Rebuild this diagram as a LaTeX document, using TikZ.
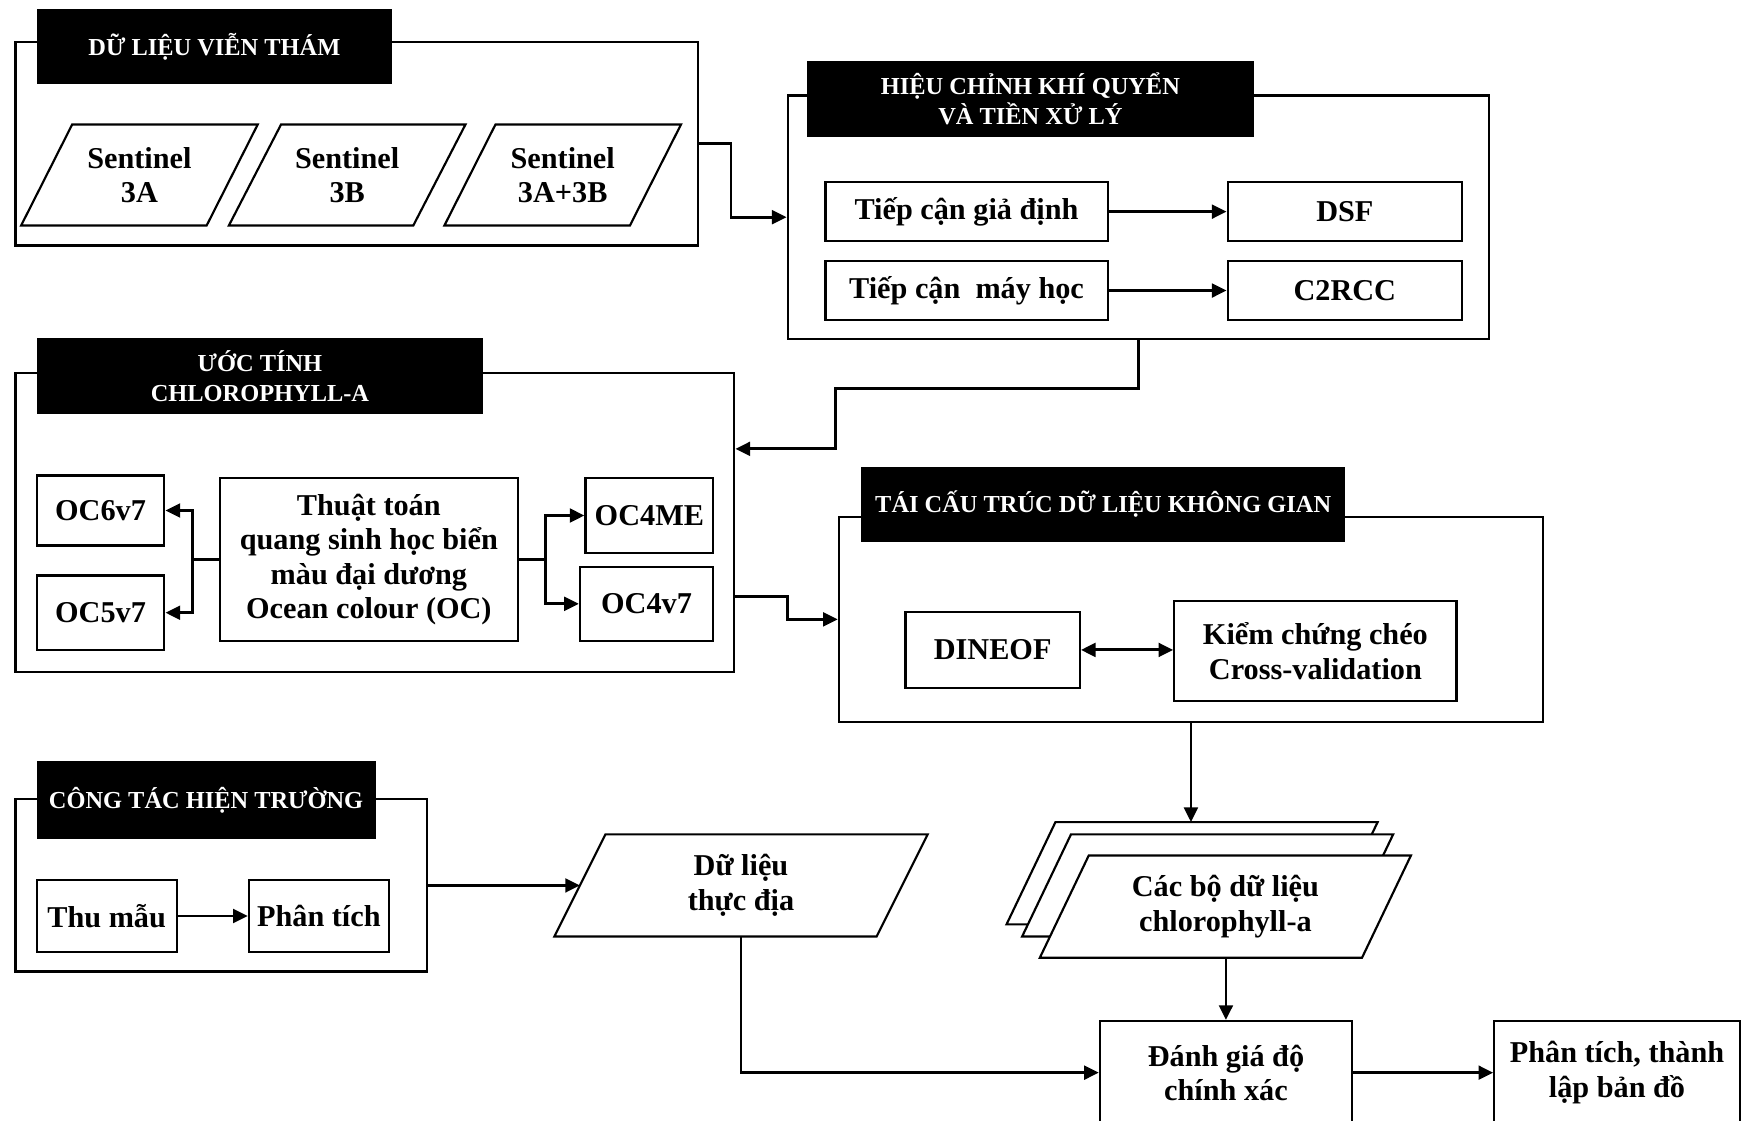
\documentclass[tikz,border=0pt]{standalone}
\usepackage{fontspec}
\setmainfont{Liberation Serif}
\usetikzlibrary{arrows.meta,fit}
\newcommand\paral[7]{%
  \draw[para] (#2,#4) -- (#2+#6,#3) -- (#2+#6+#5,#3) -- (#2+#5,#4) -- cycle;
  \coordinate (#1-left) at (#2+#6/2,#3/2+#4/2);
  \coordinate (#1-top) at (#2+#6+#5/2,#3);
  \coordinate (#1-bot) at (#2+#5/2,#4);
  \node (#1) at (#2+#6/2+#5/2,#3/2+#4/2) {#7};}
% box with centred text: #1 style, #2 name, #3 corner, #4 corner, #5 text
\newcommand\boxn[5]{%
  \node[#1, fit={(#3) (#4)}] (#2) {};
  \node[#1text] (#2-t) at (#2.center) {#5};}
\begin{document}
\begin{tikzpicture}[x=0.02cm,y=-0.02cm,
  every node/.style={font=\bfseries\fontsize{15.5}{17.6}\selectfont, align=center},
  box/.style={draw, line width=1.1pt, inner sep=0pt},
  boxtext/.style={inner sep=0pt},
  group/.style={draw, line width=1.1pt, inner sep=0pt},
  head/.style={fill=black, inner sep=0pt},
  headtext/.style={text=white, inner sep=0pt, font=\bfseries\fontsize{12.5}{15}\selectfont},
  para/.style={draw, line width=1.1pt, fill=white},
  conn/.style={line width=1.5pt, -{Triangle[length=7.5pt,width=7pt]}},
  dconn/.style={line width=1.5pt, {Triangle[length=7.5pt,width=7pt]}-{Triangle[length=7.5pt,width=7pt]}}
]
\fill[white] (0,0) rectangle (1568,1009);
\clip (0,0) rectangle (1568,1009);

% ---- Group 1
\node[group, fit={(14,38) (628,221)}] (g1) {};
\boxn{head}{h1}{33,8}{353,76}{DỮ LIỆU VIỄN THÁM}
\paral{s3a}{19}{112}{203}{167}{46}{Sentinel\\3A}
\paral{s3b}{206}{112}{203}{166}{47}{Sentinel\\3B}
\paral{s3ab}{400}{112}{203}{167}{46}{Sentinel\\3A+3B}

% ---- Group 2
\node[group, fit={(709,86) (1340,305)}] (g2) {};
\boxn{head}{h2}{726,55}{1129,123}{HIỆU CHỈNH KHÍ QUYỂN\\VÀ TIỀN XỬ LÝ}
\boxn{box}{a1}{743,164}{997,217}{Tiếp cận giả định}
\boxn{box}{b1}{1105,164}{1316,217}{DSF}
\boxn{box}{a2}{743,235}{997,288}{Tiếp cận~ máy học}
\boxn{box}{b2}{1105,235}{1316,288}{C2RCC}
\draw[conn] (a1) -- (b1);
\draw[conn] (a2) -- (b2);

% ---- Group 3
\node[group, fit={(14,336) (661,605)}] (g3) {};
\boxn{head}{h3}{33,304}{435,373}{ƯỚC TÍNH\\CHLOROPHYLL-A}
\boxn{box}{oc6}{33,428}{148,491}{OC6v7}
\boxn{box}{oc5}{33,518}{148,585}{OC5v7}
\boxn{box}{alg}{198,430}{466,577}{Thuật toán\\quang sinh học biển\\màu đại dương\\Ocean colour (OC)}
\boxn{box}{oc4me}{527,430}{642,498}{OC4ME}
\boxn{box}{oc4v7}{522,510}{642,577}{OC4v7}
\draw[conn] (alg.west) -- ++(-24,0) |- (oc6.east);
\draw[conn] (alg.west) -- ++(-24,0) |- (oc5.east);
\draw[conn] (alg.east) -- ++(24,0) |- (oc4me.west);
\draw[conn] (alg.east) -- ++(24,0) |- (oc4v7.west);

% ---- Group 4
\node[group, fit={(755,465) (1389,650)}] (g4) {};
\boxn{head}{h4}{775,420}{1211,488}{TÁI CẤU TRÚC DỮ LIỆU KHÔNG GIAN}
\boxn{box}{dineof}{815,551}{972,619}{DINEOF}
\boxn{box}{kiem}{1057,541}{1311,631}{Kiểm chứng chéo\\Cross-validation}
\draw[dconn] (dineof.east) -- (kiem.west |- dineof.east);

% ---- Stack of chlorophyll-a datasets
\paral{back}{906}{740}{832}{290}{44}{}
\paral{mid}{920}{751}{843}{290}{44}{}
\paral{front}{936}{770}{862}{290}{44}{Các bộ dữ liệu\\chlorophyll-a}

% ---- Group 5
\node[group, fit={(14,719.5) (384,874.5)}] (g5) {};
\boxn{head}{h5}{33,685}{338,755}{CÔNG TÁC HIỆN TRƯỜNG}
\boxn{box}{thu}{33,792}{159,857}{Thu mẫu}
\boxn{box}{phan}{224,792}{350,857}{Phân tích}
\draw[conn] (thu) -- (phan);

\paral{data}{499}{751}{843}{290}{46}{Dữ liệu\\thực địa}

% ---- Final boxes
\boxn{box}{danh}{990,919}{1217,1012}{Đánh giá độ\\chính xác}
\boxn{box}{final}{1345,919}{1566,1012}{Phân tích, thành\\lập bản đồ}

% ---- Connectors between groups
\coordinate (k1) at (0,404);
\coordinate (k2) at (0,537);
\draw[conn] (g1.east) -- ++(29,0) |- (g2.west);
\draw[conn] (g2.south) |- (752,350) -- (752,404) -- (g3.east |- k1);
\draw[conn] (g3.east |- k2) -- ++(47,0) |- (g4.west);
\draw[conn] (g4.south) -- (g4.south |- back-top);
\draw[conn] (danh.north |- front-bot) -- (danh.north);
\draw[conn] (g5.east) -- (data-left);
\draw[conn] (data |- data-bot) |- (danh.west);
\draw[conn] (danh) -- (final);
\end{tikzpicture}
\end{document}
